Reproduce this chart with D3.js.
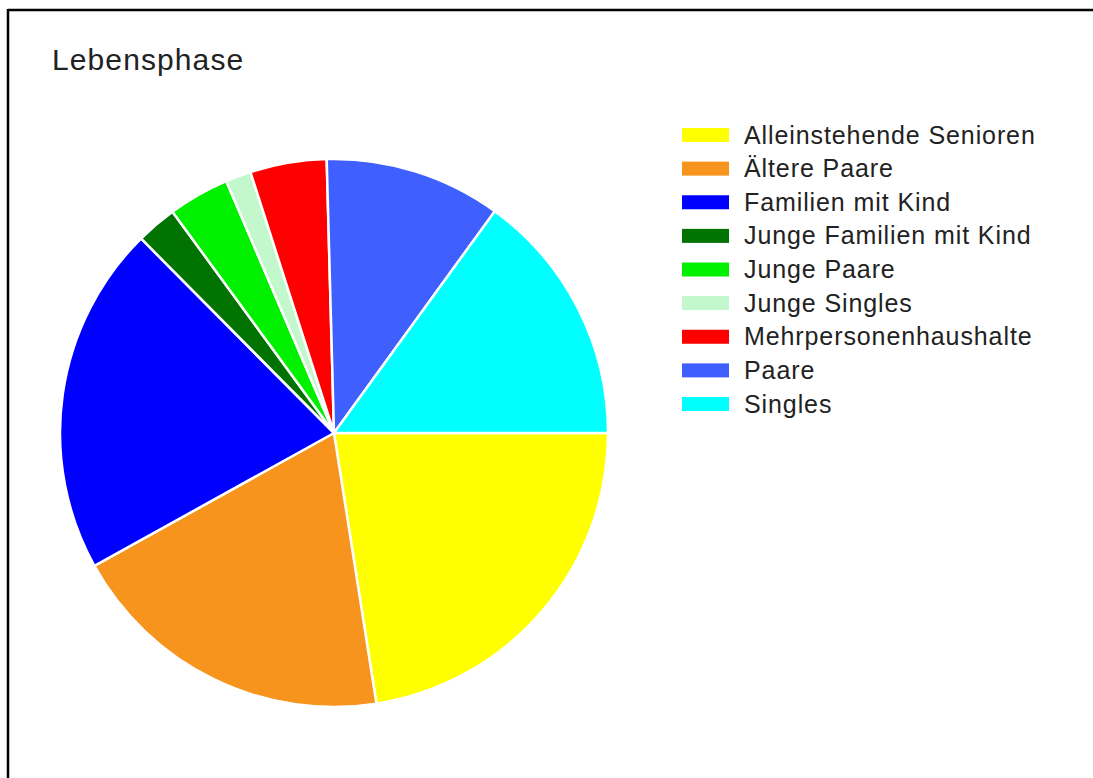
<!DOCTYPE html>
<html>
<head>
<meta charset="utf-8">
<script src="https://cdn.jsdelivr.net/npm/d3@7"></script>
<style>
  html, body { margin: 0; padding: 0; background: #fff; }
  svg { display: block; }
  text { font-family: "Liberation Sans", Arial, sans-serif; fill: #222; }
</style>
</head>
<body>
<svg id="chart" width="1093" height="778"></svg>
<script>
const title = "Lebensphase";
const categories = [
  "Alleinstehende Senioren",
  "Ältere Paare",
  "Familien mit Kind",
  "Junge Familien mit Kind",
  "Junge Paare",
  "Junge Singles",
  "Mehrpersonenhaushalte",
  "Paare",
  "Singles"
];
const values = [22.5, 19.4, 20.6, 2.4, 3.6, 1.5, 4.5, 10.4, 15.0];
const colors = ["#FFFF00", "#F7941D", "#0000FF", "#007300", "#00F000", "#C2F8CC", "#FF0000", "#3F5FFF", "#00FFFF"];

const svg = d3.select("#chart");
const W = 1093, H = 778;

// frame (left + top border)
svg.append("line").attr("x1", 8).attr("y1", 10).attr("x2", W + 5).attr("y2", 10)
  .attr("stroke", "#000").attr("stroke-width", 2.5);
svg.append("line").attr("x1", 8).attr("y1", 9).attr("x2", 8).attr("y2", H + 5)
  .attr("stroke", "#000").attr("stroke-width", 2.5);

// title
svg.append("text").attr("x", 52).attr("y", 70)
  .attr("font-size", 30).attr("letter-spacing", 1.1).attr("fill", "#222").text(title);

// pie
const cx = 334, cy = 433, R = 274;
const data = categories.map((c, i) => ({ cat: c, value: values[i], color: colors[i] }));
const pie = d3.pie().sort(null).value(d => d.value)
  .startAngle(Math.PI / 2).endAngle(Math.PI / 2 + 2 * Math.PI);
const arc = d3.arc().innerRadius(0).outerRadius(R);
const g = svg.append("g").attr("transform", `translate(${cx},${cy})`);
g.selectAll("path").data(pie(data)).join("path")
  .attr("d", arc)
  .attr("fill", d => d.data.color)
  .attr("stroke", "#fff")
  .attr("stroke-width", 2.5)
  .attr("stroke-linejoin", "round");

// legend
const legY = d3.scalePoint().domain(categories).range([135, 404]);
const leg = svg.append("g");
const rows = leg.selectAll("g").data(data).join("g")
  .attr("transform", d => `translate(0,${legY(d.cat)})`);
rows.append("rect").attr("x", 682).attr("y", -7).attr("width", 47).attr("height", 14)
  .attr("fill", d => d.color);
rows.append("text").attr("x", 744).attr("y", 8.5)
  .attr("font-size", 25).attr("letter-spacing", 0.9).attr("fill", "#222")
  .text(d => d.cat);
</script>
</body>
</html>
